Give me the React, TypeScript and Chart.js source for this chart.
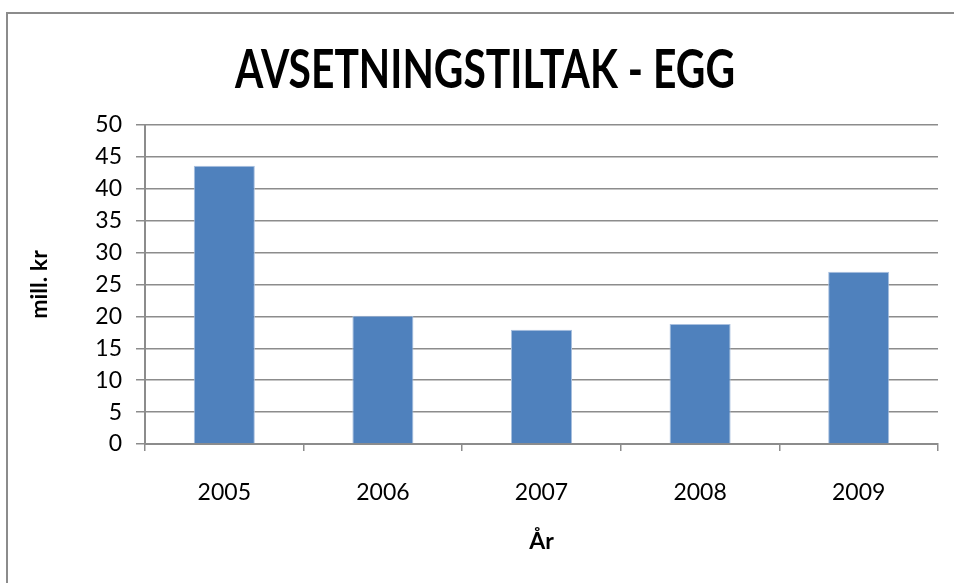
import React, { useEffect, useRef } from "react";
import { Chart, registerables } from "chart.js";

Chart.register(...registerables);

const categories = ["2005", "2006", "2007", "2008", "2009"];
const values = [43.6, 20.1, 17.9, 18.8, 27.0];
const yTicks = [0, 5, 10, 15, 20, 25, 30, 35, 40, 45, 50];
const titleText = "AVSETNINGSTILTAK - EGG";
const yTitle = "mill. kr";
const xTitle = "År";

const FONT = "Lato, 'Open Sans', sans-serif";

// Condensed bold title, drawn as real canvas text
const condensedTitle = {
  id: "condensedTitle",
  afterDraw(chart: any) {
    const ctx = chart.ctx as CanvasRenderingContext2D;
    ctx.save();
    ctx.font = `bold 53px ${FONT}`;
    ctx.fillStyle = "#000";
    ctx.textAlign = "center";
    ctx.textBaseline = "middle";
    ctx.translate(485, 71);
    ctx.scale(0.77, 1);
    ctx.fillText(titleText, 0, 0);
    ctx.restore();
  },
};

export default function App() {
  const ref = useRef<HTMLCanvasElement | null>(null);
  useEffect(() => {
    if (!ref.current) return;
    const chart = new Chart(ref.current, {
      type: "bar",
      data: {
        labels: categories,
        datasets: [
          {
            data: values,
            backgroundColor: "#4f81bd",
            borderColor: "#a9c0df",
            borderWidth: 1,
            categoryPercentage: 1,
            barPercentage: 0.385,
          },
        ],
      },
      plugins: [condensedTitle],
      options: {
        responsive: false,
        animation: false,
        events: [],
        layout: { padding: { left: 0, right: 16, top: 125, bottom: 0 } },
        plugins: {
          legend: { display: false },
          tooltip: { enabled: false },
          title: { display: false },
        },
        scales: {
          x: {
            type: "category",
            offset: true,
            grid: {
              offset: true,
              drawOnChartArea: false,
              drawTicks: true,
              tickLength: 7,
              color: "#8c8c8c",
              lineWidth: 1.5,
            },
            border: { display: true, color: "#8c8c8c", width: 2 },
            ticks: {
              color: "#000",
              font: { family: FONT, size: 23 },
              padding: 28,
            },
            title: {
              display: true,
              text: xTitle,
              color: "#000",
              font: { family: FONT, size: 23, weight: "bold" },
              padding: { top: 0, bottom: 28 },
            },
            afterFit: (scale: any) => {
              scale.height = 583 - 444;
            },
          },
          y: {
            min: 0,
            max: 50,
            afterBuildTicks: (scale: any) => {
              scale.ticks = yTicks.map((v) => ({ value: v }));
            },
            grid: {
              color: "#8c8c8c",
              lineWidth: 1.5,
              drawTicks: true,
              tickLength: 9,
            },
            border: { display: true, color: "#8c8c8c", width: 2 },
            ticks: {
              color: "#000",
              font: { family: FONT, size: 23 },
              padding: 14,
            },
            title: {
              display: true,
              text: yTitle,
              color: "#000",
              font: { family: FONT, size: 23, weight: "bold" },
              padding: { top: 26, bottom: 0 },
            },
            afterFit: (scale: any) => {
              scale.width = 145;
            },
          },
        },
      },
    });
    return () => chart.destroy();
  }, []);

  return (
    <div
      style={{
        position: "fixed",
        left: 0,
        top: 0,
        width: 954,
        height: 583,
        overflow: "hidden",
        background: "#fff",
      }}
    >
      <div
        style={{
          position: "absolute",
          left: 6,
          top: 12,
          width: 980,
          height: 620,
          border: "2px solid #8c8c8c",
          boxSizing: "border-box",
        }}
      />
      <canvas
        ref={ref}
        width={954}
        height={583}
        style={{ position: "absolute", left: 0, top: 0, width: 954, height: 583 }}
      />
    </div>
  );
}
